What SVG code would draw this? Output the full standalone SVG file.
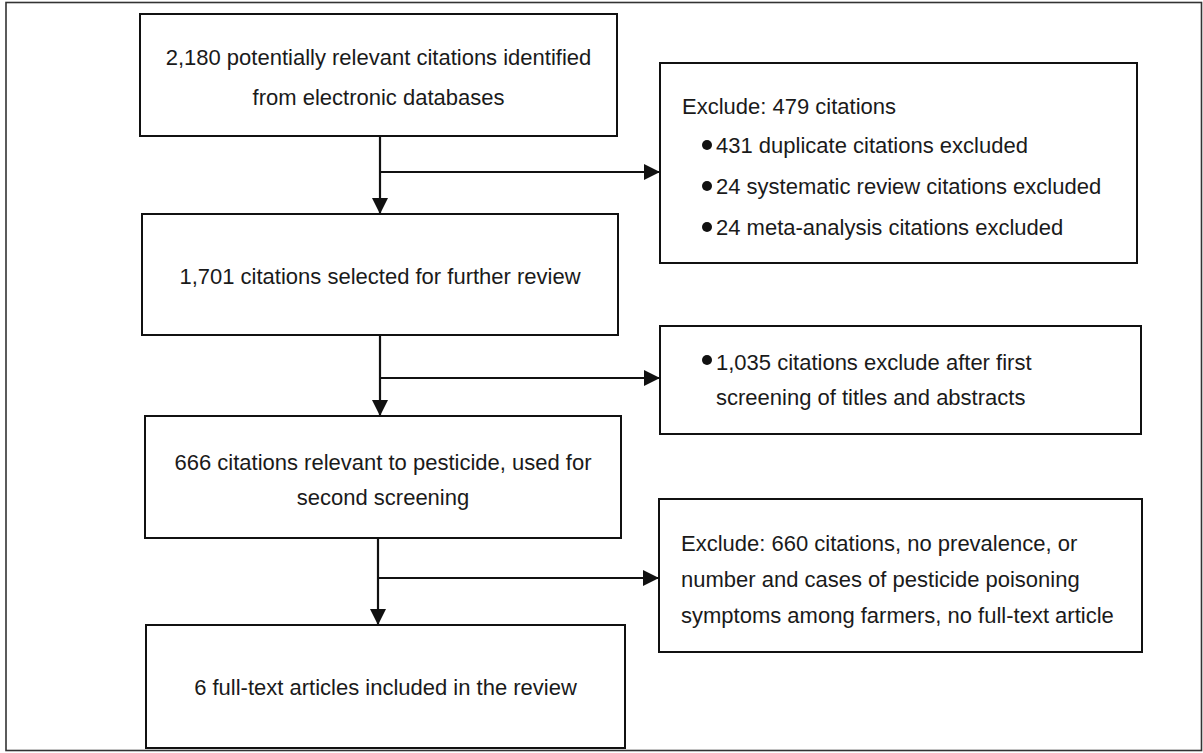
<svg xmlns="http://www.w3.org/2000/svg" width="1203" height="753" viewBox="0 0 1203 753">
  <style>
    .box { fill: #ffffff; stroke: #111111; stroke-width: 2; }
    .t { font-family: "Liberation Sans", Arial, sans-serif; font-size: 22px; fill: #1a1a1a; }
    .c { text-anchor: middle; }
    .conn { stroke: #111111; stroke-width: 2.2; fill: none; }
    .bullet { fill: #111111; }
  </style>
  <defs>
    <marker id="arrow" markerUnits="userSpaceOnUse" markerWidth="16" markerHeight="16" refX="16" refY="8" orient="auto">
      <path d="M0,0 L16,8 L0,16 Z" fill="#111111"/>
    </marker>
  </defs>
  <rect x="0" y="0" width="1203" height="753" fill="#ffffff"/>
  <rect id="frame" x="6" y="2.5" width="1195.5" height="748" fill="none" stroke="#333333" stroke-width="1.6"/>

  <g id="n1">
    <rect class="box" x="140" y="14" width="477" height="122"/>
    <text class="t c" x="378.5" y="65">2,180 potentially relevant citations identified</text>
    <text class="t c" x="378.5" y="105">from electronic databases</text>
  </g>
  <g id="n2">
    <rect class="box" x="142" y="214" width="476" height="121"/>
    <text class="t c" x="380" y="284">1,701 citations selected for further review</text>
  </g>
  <g id="n3">
    <rect class="box" x="145" y="416" width="476" height="122"/>
    <text class="t c" x="383" y="470">666 citations relevant to pesticide, used for</text>
    <text class="t c" x="383" y="505">second screening</text>
  </g>
  <g id="n4">
    <rect class="box" x="146" y="625" width="479" height="123"/>
    <text class="t c" x="385.5" y="695">6 full-text articles included in the review</text>
  </g>
  <g id="x1">
    <rect class="box" x="660" y="63" width="477" height="200"/>
    <text class="t" x="682" y="114">Exclude: 479 citations</text>
    <circle class="bullet" cx="707" cy="145" r="5"/>
    <text class="t" x="716" y="153">431 duplicate citations excluded</text>
    <circle class="bullet" cx="707" cy="186" r="5"/>
    <text class="t" x="716" y="194">24 systematic review citations excluded</text>
    <circle class="bullet" cx="707" cy="227" r="5"/>
    <text class="t" x="716" y="235">24 meta-analysis citations excluded</text>
  </g>
  <g id="x2">
    <rect class="box" x="660" y="326" width="481" height="108"/>
    <circle class="bullet" cx="707" cy="360" r="5"/>
    <text class="t" x="716" y="370">1,035 citations exclude after first</text>
    <text class="t" x="716" y="405">screening of titles and abstracts</text>
  </g>
  <g id="x3">
    <rect class="box" x="659" y="499" width="483" height="153"/>
    <text class="t" x="681" y="551">Exclude: 660 citations, no prevalence, or</text>
    <text class="t" x="681" y="587">number and cases of pesticide poisoning</text>
    <text class="t" x="681" y="623">symptoms among farmers, no full-text article</text>
  </g>

  <g id="connectors">
    <line class="conn" x1="380" y1="136" x2="380" y2="214" marker-end="url(#arrow)"/>
    <line class="conn" x1="380" y1="172" x2="660" y2="172" marker-end="url(#arrow)"/>
    <line class="conn" x1="380" y1="335" x2="380" y2="416" marker-end="url(#arrow)"/>
    <line class="conn" x1="380" y1="378" x2="660" y2="378" marker-end="url(#arrow)"/>
    <line class="conn" x1="378" y1="538" x2="378" y2="625" marker-end="url(#arrow)"/>
    <line class="conn" x1="378" y1="578" x2="659" y2="578" marker-end="url(#arrow)"/>
  </g>
</svg>
